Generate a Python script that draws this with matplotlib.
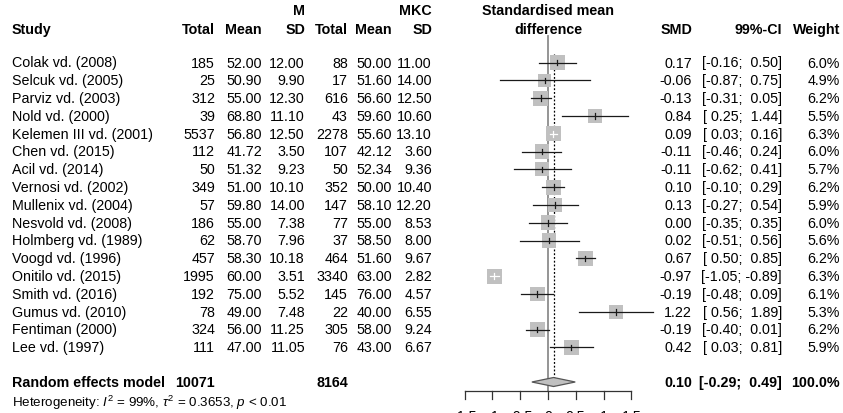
import numpy as np
import matplotlib
matplotlib.use("Agg")
import matplotlib.pyplot as plt
from matplotlib.patches import Rectangle, Polygon

plt.rcParams['font.family'] = ['Liberation Sans', 'DejaVu Sans']
plt.rcParams['mathtext.fontset'] = 'custom'
plt.rcParams['mathtext.rm'] = 'Liberation Sans'
plt.rcParams['mathtext.it'] = 'Liberation Sans:italic'

# data
studies = ["Colak vd. (2008)", "Selcuk vd. (2005)", "Parviz vd. (2003)", "Nold vd. (2000)",
           "Kelemen III vd. (2001)", "Chen vd. (2015)", "Acil vd. (2014)", "Vernosi vd. (2002)",
           "Mullenix vd. (2004)", "Nesvold vd. (2008)", "Holmberg vd. (1989)", "Voogd vd. (1996)",
           "Onitilo vd. (2015)", "Smith vd. (2016)", "Gumus vd. (2010)", "Fentiman (2000)",
           "Lee vd. (1997)"]
n_m = [185, 25, 312, 39, 5537, 112, 50, 349, 57, 186, 62, 457, 1995, 192, 78, 324, 111]
mean_m = [52.00, 50.90, 55.00, 68.80, 56.80, 41.72, 51.32, 51.00, 59.80, 55.00, 58.70, 58.30,
          60.00, 75.00, 49.00, 56.00, 47.00]
sd_m = [12.00, 9.90, 12.30, 11.10, 12.50, 3.50, 9.23, 10.10, 14.00, 7.38, 7.96, 10.18,
        3.51, 5.52, 7.48, 11.25, 11.05]
n_mkc = [88, 17, 616, 43, 2278, 107, 50, 352, 147, 77, 37, 464, 3340, 145, 22, 305, 76]
mean_mkc = [50.00, 51.60, 56.60, 59.60, 55.60, 42.12, 52.34, 50.00, 58.10, 55.00, 58.50, 51.60,
            63.00, 76.00, 40.00, 58.00, 43.00]
sd_mkc = [11.00, 14.00, 12.50, 10.60, 13.10, 3.60, 9.36, 10.40, 12.20, 8.53, 8.00, 9.67,
          2.82, 4.57, 6.55, 9.24, 6.67]
smd = [0.17, -0.06, -0.13, 0.84, 0.09, -0.11, -0.11, 0.10, 0.13, 0.00, 0.02, 0.67,
       -0.97, -0.19, 1.22, -0.19, 0.42]
ci_lo = [-0.16, -0.87, -0.31, 0.25, 0.03, -0.46, -0.62, -0.10, -0.27, -0.35, -0.51, 0.50,
         -1.05, -0.48, 0.56, -0.40, 0.03]
ci_hi = [0.50, 0.75, 0.05, 1.44, 0.16, 0.24, 0.41, 0.29, 0.54, 0.35, 0.56, 0.85,
         -0.89, 0.09, 1.89, 0.01, 0.81]
weight = [6.0, 4.9, 6.2, 5.5, 6.3, 6.0, 5.7, 6.2, 5.9, 6.0, 5.6, 6.2, 6.3, 6.1, 5.3, 6.2, 5.9]

total_m = 10071
total_mkc = 8164
re_smd, re_lo, re_hi = 0.10, -0.29, 0.49
het_text = r"Heterogeneity: $I^2$ = 99%, $\tau^2$ = 0.3653, $p$ < 0.01"
ticks = [-1.5, -1, -0.5, 0, 0.5, 1, 1.5]

# layout (pixels)
W, H = 843, 414
x0_pix, unit_pix = 548, 55.6
row0, row_step = 63.5, 17.8
y_sum, y_het = 383, 403
fs = 10.3

fig = plt.figure(figsize=(W / 100, H / 100), dpi=100)
ax = fig.add_axes([0, 0, 1, 1])
ax.set_xlim(0, W)
ax.set_ylim(H, 0)
ax.axis('off')

# forest axes: x in SMD units, y in pixels
fx = fig.add_axes([0, 0, 1, 1])
fx.set_xlim(-x0_pix / unit_pix, (W - x0_pix) / unit_pix)
fx.set_ylim(H, 0)
fx.axis('off')
fx.patch.set_alpha(0)

rows = row0 + row_step * np.arange(len(studies))

# headers
hb = dict(fontsize=fs, fontweight='bold', va='center')
ax.text(12, 30, "Study", ha='left', **hb)
for x, lab in [(215, "Total"), (262, "Mean"), (305, "SD"), (348, "Total"), (392, "Mean"), (432, "SD")]:
    ax.text(x, 30, lab, ha='right', **hb)
ax.text(305, 11, "M", ha='right', **hb)
ax.text(432, 11, "MKC", ha='right', **hb)
ax.text(x0_pix, 11, "Standardised mean", ha='center', **hb)
ax.text(x0_pix, 30, "difference", ha='center', **hb)
ax.text(692, 30, "SMD", ha='right', **hb)
ax.text(782, 30, "99%-CI", ha='right', **hb)
ax.text(840, 30, "Weight", ha='right', **hb)

# study rows
for i, y in enumerate(rows):
    t = dict(fontsize=fs, va='center')
    ax.text(12, y, studies[i], ha='left', **t)
    ax.text(215, y, f"{n_m[i]}", ha='right', **t)
    ax.text(262, y, f"{mean_m[i]:.2f}", ha='right', **t)
    ax.text(305, y, f"{sd_m[i]:.2f}", ha='right', **t)
    ax.text(348, y, f"{n_mkc[i]}", ha='right', **t)
    ax.text(392, y, f"{mean_mkc[i]:.2f}", ha='right', **t)
    ax.text(432, y, f"{sd_mkc[i]:.2f}", ha='right', **t)
    ax.text(692, y, f"{smd[i]:.2f}", ha='right', **t)
    ax.text(782, y, f"[{ci_lo[i]:5.2f}; {ci_hi[i]:5.2f}]", ha='right', **t)
    ax.text(840, y, f"{weight[i]:.1f}%", ha='right', **t)

# reference lines
fx.plot([0, 0], [37, 392], color='#8c8c8c', lw=1.3, zorder=1)
fx.plot([re_smd, re_smd], [55, y_sum - 4], color='black', lw=0.9, ls=(0, (1.5, 1.5)), zorder=1)

# boxes and CIs
for i, y in enumerate(rows):
    side = 15 * np.sqrt(weight[i] / 6.3)
    half = side / 2 / unit_pix
    fx.add_patch(Rectangle((smd[i] - half, y - side / 2), 2 * half, side,
                           facecolor='#c0c0c0', edgecolor='none', zorder=2))
    inside = (smd[i] - ci_lo[i] < half) and (ci_hi[i] - smd[i] < half)
    c = 'white' if inside else '#1a1a1a'
    fx.plot([ci_lo[i], ci_hi[i]], [y, y], color=c, lw=0.9, zorder=3)
    fx.plot([smd[i], smd[i]], [y - 2.8, y + 2.8], color=c, lw=0.9, zorder=3)

# summary diamond
fx.add_patch(Polygon([(re_lo, y_sum), (re_smd, y_sum - 4.5), (re_hi, y_sum), (re_smd, y_sum + 4.5)],
                     closed=True, facecolor='#c0c0c0', edgecolor='#555555', lw=0.9, zorder=3))
sb = dict(fontsize=fs, fontweight='bold', va='center')
ax.text(12, y_sum, "Random effects model", ha='left', **sb)
ax.text(215, y_sum, f"{total_m}", ha='right', **sb)
ax.text(348, y_sum, f"{total_mkc}", ha='right', **sb)
ax.text(692, y_sum, f"{re_smd:.2f}", ha='right', **sb)
ax.text(782, y_sum, f"[{re_lo:5.2f}; {re_hi:5.2f}]", ha='right', **sb)
ax.text(840, y_sum, "100.0%", ha='right', **sb)
ax.text(12, y_het, het_text, ha='left', va='center', fontsize=9.6)

# x axis (tick labels fall mostly below the bottom edge, as in the original)
fx.plot([ticks[0], ticks[-1]], [392, 392], color='#333333', lw=0.9, zorder=1)
for tk in ticks:
    fx.plot([tk, tk], [392, 400], color='#333333', lw=0.9, zorder=1)
    fx.text(tk, 410.5, f"{tk:g}", ha='center', va='top', fontsize=fs)

fig.savefig('out.png', dpi=100)
